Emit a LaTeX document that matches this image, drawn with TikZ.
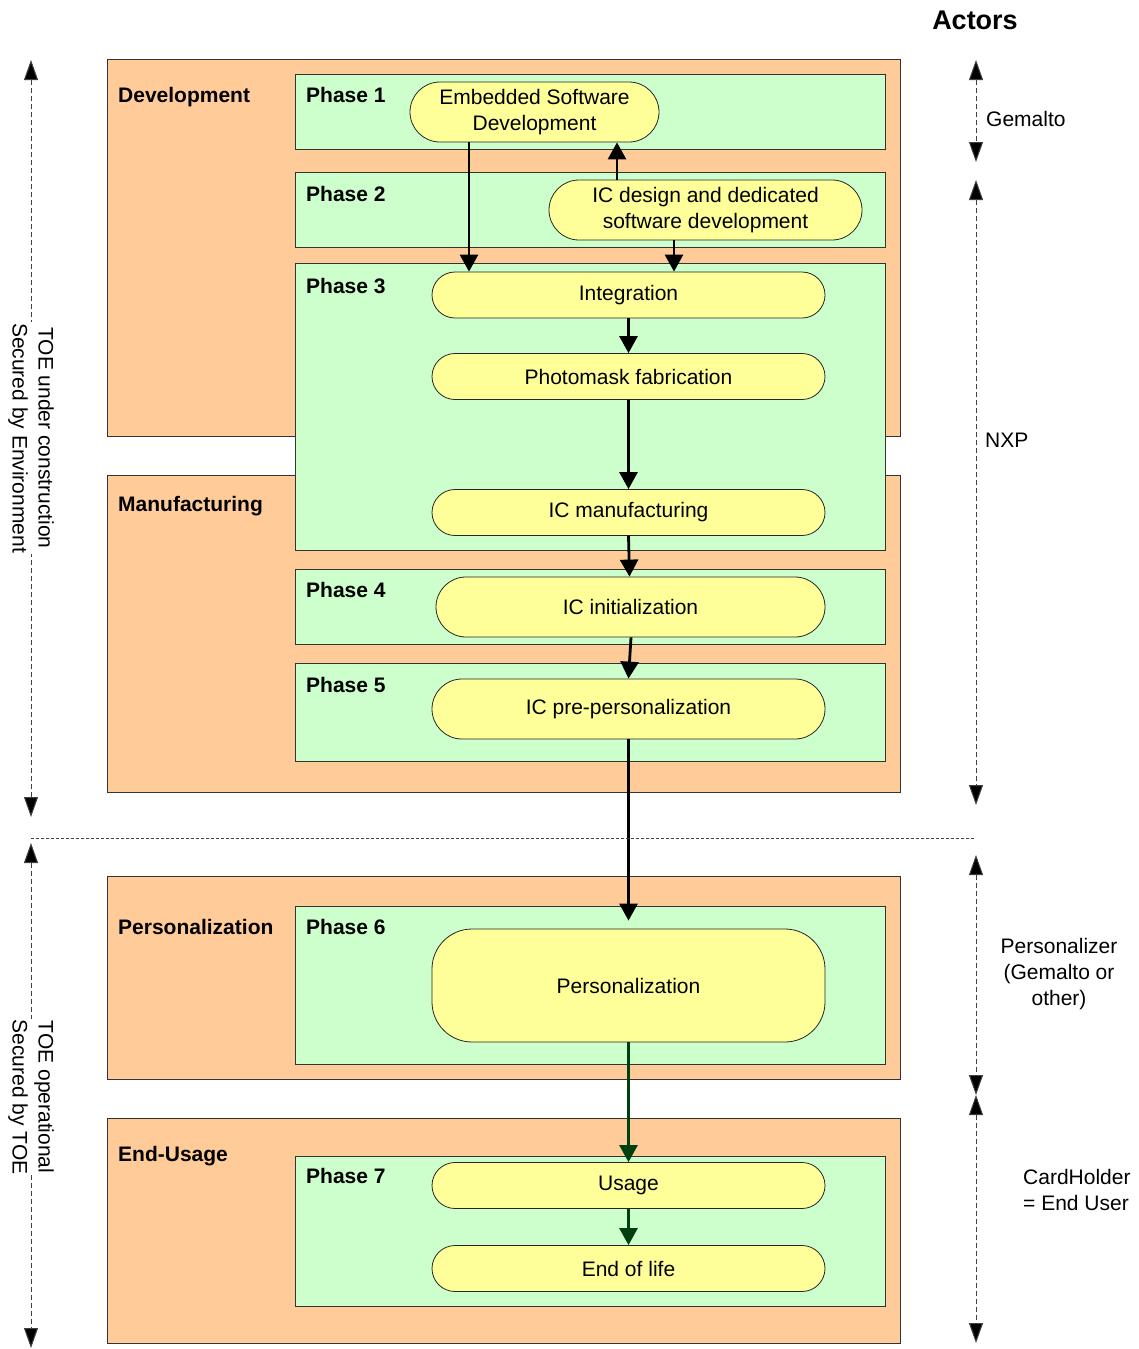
\documentclass[tikz,border=0pt]{standalone}
\usepackage{fontspec}
\setmainfont{Liberation Sans}
\usetikzlibrary{arrows.meta}
\definecolor{orangebox}{HTML}{FFCC99}
\definecolor{greenbox}{HTML}{CCFFCC}
\definecolor{yelbox}{HTML}{FFFF99}
\definecolor{darkgreen}{HTML}{004010}
\begin{document}
\begin{tikzpicture}[x=1pt,y=-1pt,
  every node/.style={font=\fontsize{21}{26}\selectfont},
  outer/.style={draw=black!80, fill=orangebox, line width=1.1pt, inner sep=0, anchor=north west},
  phasebox/.style={draw=black!80, fill=greenbox, line width=1pt, inner sep=0, anchor=north west},
  proc/.style={draw=black!85, fill=yelbox, line width=0.8pt, align=center, inner sep=2pt},
  lbl/.style={font=\fontsize{21}{26}\selectfont\bfseries, anchor=base west, inner sep=0},
  flow/.style={line width=2.8pt, -{Triangle[length=17pt,width=18pt]}},
  gflow/.style={flow, draw=darkgreen, -{Triangle[length=17pt,width=18pt,fill=darkgreen]}},
  dimline/.style={line width=1pt, draw=black!75, dash pattern=on 5pt off 3pt,
     {Triangle[length=20pt,width=14pt,fill=black]}-{Triangle[length=20pt,width=14pt,fill=black]}},
  actor/.style={align=left, anchor=west, inner sep=0}
]
\useasboundingbox (0,0) rectangle (1139,1349);

% outer stage boxes
\node[outer, minimum width=793pt, minimum height=377pt] (devbox) at (107,59) {};
\node[outer, minimum width=793pt, minimum height=317pt] (manbox) at (107,475) {};
\node[outer, minimum width=793pt, minimum height=203pt] (perbox) at (107,876) {};
\node[outer, minimum width=793pt, minimum height=225pt] (endbox) at (107,1118) {};

% phase boxes
\node[phasebox, minimum width=590pt, minimum height=75pt] (ph1) at (295,74) {};
\node[phasebox, minimum width=590pt, minimum height=75pt] (ph2) at (295,172) {};
\node[phasebox, minimum width=590pt, minimum height=287pt] (ph3) at (295,263) {};
\node[phasebox, minimum width=590pt, minimum height=75pt] (ph4) at (295,569) {};
\node[phasebox, minimum width=590pt, minimum height=98pt] (ph5) at (295,663) {};
\node[phasebox, minimum width=590pt, minimum height=158pt] (ph6) at (295,906) {};
\node[phasebox, minimum width=590pt, minimum height=150pt] (ph7) at (295,1156) {};

% stage labels
\node[lbl] (ldev) at (118,102.5) {Development};
\node[lbl] (lman) at (118,511.5) {Manufacturing};
\node[lbl] (lper) at (118,934.5) {Personalization};
\node[lbl] (lend) at (118,1161.5) {End-Usage};

% phase labels
\node[lbl] (lp1) at (306,102.5) {Phase 1};
\node[lbl] (lp2) at (306,201.5) {Phase 2};
\node[lbl] (lp3) at (306,293.5) {Phase 3};
\node[lbl] (lp4) at (306,597.5) {Phase 4};
\node[lbl] (lp5) at (306,692.5) {Phase 5};
\node[lbl] (lp6) at (306,934.5) {Phase 6};
\node[lbl] (lp7) at (306,1183.5) {Phase 7};

% process nodes
\node[proc, rounded corners=30pt, minimum width=249pt, minimum height=60pt] (esd) at (534.5,112) {Embedded Software\\Development};
\node[proc, rounded corners=30pt, minimum width=313pt, minimum height=60pt] (icd) at (705.5,210) {IC design and dedicated\\software development};
\node[proc, rounded corners=23pt, minimum width=393pt, minimum height=46pt] (integ) at (628.5,295) {Integration};
\node[proc, rounded corners=23pt, minimum width=393pt, minimum height=46pt] (photo) at (628.5,376.5) {Photomask fabrication};
\node[proc, rounded corners=23pt, minimum width=393pt, minimum height=46pt] (icm) at (628.5,512.5) {IC manufacturing};
\node[proc, rounded corners=30pt, minimum width=389pt, minimum height=60pt] (ici) at (630.5,607) {IC initialization};
\node[proc, rounded corners=30pt, minimum width=393pt, minimum height=60pt] (ipp) at (628.5,709) {IC pre-personalization};
\node[proc, rounded corners=40pt, minimum width=393pt, minimum height=113pt] (perso) at (628.5,985.5) {Personalization};
\node[proc, rounded corners=23pt, minimum width=393pt, minimum height=46pt] (usage) at (628.5,1185.5) {Usage};
\node[proc, rounded corners=23pt, minimum width=393pt, minimum height=46pt] (eol) at (628.5,1268.5) {End of life};

% flows
\draw[flow] ([xshift=-65.5pt]esd.south) -- ([xshift=-159.5pt]integ.north);
\draw[flow] ([xshift=-88.5pt]icd.north) -- ([xshift=82.5pt]esd.south);
\draw[flow] ([xshift=-31.5pt]icd.south) -- ([xshift=45.5pt]integ.north);
\draw[flow] (integ.south) -- (photo.north);
\draw[flow] (photo.south) -- (icm.north);
\draw[flow] (icm.south) -- ([xshift=-1pt]ici.north);
\draw[flow] ([xshift=0.5pt]ici.south) -- (ipp.north);
\draw[flow, shorten >=8pt] (ipp.south) -- (perso.north);
\draw[gflow] (perso.south) -- (usage.north);
\draw[gflow] (usage.south) -- (eol.north);

% left side: security dimension lines
\coordinate (l1) at (31,60);
\coordinate (l2) at (31,817);
\coordinate (l3) at (31,843);
\coordinate (l4) at (31,1348);
\draw[dimline] (l1) -- (l2);
\draw[dimline] (l3) -- (l4);
\coordinate (h1) at (31,838);
\coordinate (h2) at (975,838);
\draw[line width=0.9pt, draw=black!75, dash pattern=on 3pt off 2pt] (h1) -- (h2);

\node[fill=white, rotate=-90, align=center, inner sep=1pt] (toe1) at (31,438) {TOE under construction\\Secured by Environment};
\node[fill=white, rotate=-90, align=center, inner sep=1pt] (toe2) at (31,1097) {TOE operational\\Secured by TOE};

% right side: actors
\node[font=\fontsize{27}{32}\selectfont\bfseries] (actors) at (975,20) {Actors};
\coordinate (r1) at (976,60);
\coordinate (r2) at (976,162);
\coordinate (r3) at (976,180);
\coordinate (r4) at (976,805);
\coordinate (r5) at (976,855);
\coordinate (r6) at (976,1095);
\coordinate (r7) at (976,1095);
\coordinate (r8) at (976,1343);
\draw[dimline] (r1) -- (r2);
\draw[dimline] (r3) -- (r4);
\draw[dimline] (r5) -- (r6);
\draw[dimline] (r7) -- (r8);

\node[actor] (gem) at (986,119) {Gemalto};
\node[actor] (nxp) at (985,440) {NXP};
\node[align=center, inner sep=0] (pers) at (1059,974) {Personalizer\\(Gemalto or\\other)};
\node[actor] (card) at (1023,1190) {CardHolder\\= End User};
\end{tikzpicture}
\end{document}
